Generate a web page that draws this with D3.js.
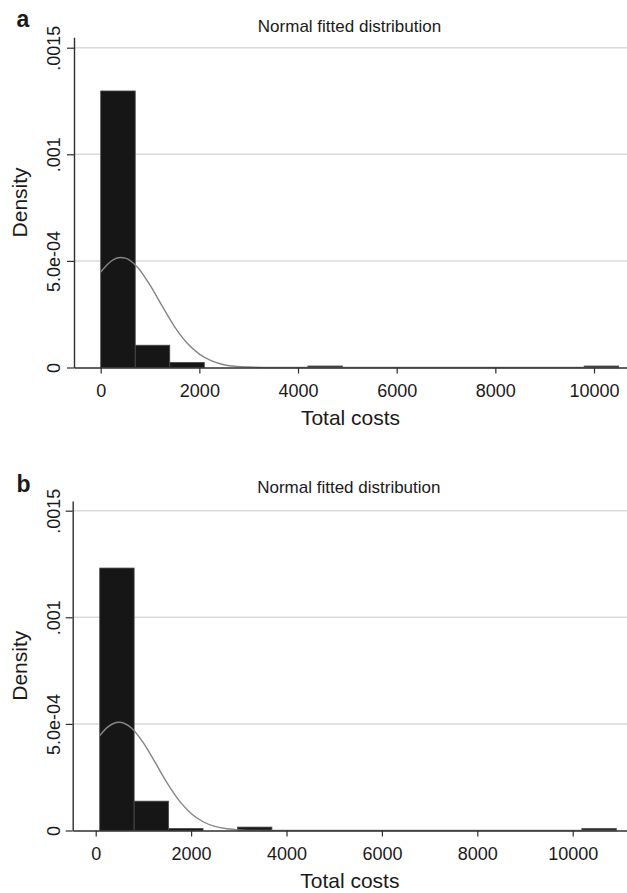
<!DOCTYPE html>
<html>
<head>
<meta charset="utf-8">
<script src="https://cdn.jsdelivr.net/npm/d3@7"></script>
<style>
  html, body { margin: 0; padding: 0; background: #fff; }
  svg { display: block; }
  text { font-family: "Liberation Sans", Arial, Helvetica, sans-serif; fill: #1a1a1a; }
</style>
</head>
<body>
<svg id="chart" width="627" height="893"></svg>
<script>
// ---------- DATA ----------
const xTickValues = [0, 2000, 4000, 6000, 8000, 10000];
const xTickLabels = ["0", "2000", "4000", "6000", "8000", "10000"];
const yTickValues = [0, 0.0005, 0.001, 0.0015];
const yTickLabels = ["0", "5.0e-04", ".001", ".0015"];
const gridValues = [0.0005, 0.001, 0.0015];

// Panel a histogram bins (non-empty bins)
const binLoA = [0, 700, 1400, 4200, 9800];
const binHiA = [700, 1400, 2100, 4900, 10500];
const densA  = [0.001297, 0.0001045, 0.000024, 0.000007, 0.000007];
// Panel a fitted normal curve
const curveXA = [0, 250, 400, 500, 750, 1000, 1250, 1500, 1750, 2000, 2250, 2500, 2750, 3000, 3500, 4000, 6000, 10500];
const curveYA = [0.000448, 0.000505, 0.000516, 0.000513, 0.000469, 0.000386, 0.000287, 0.000191, 0.000115, 0.000063, 0.000031, 0.000013, 0.000005, 0.000002, 0, 0, 0, 0];

// Panel b histogram bins (non-empty bins)
const binLoB = [84, 806, 1528, 2972, 10192];
const binHiB = [806, 1528, 2250, 3694, 10914];
const densB  = [0.001231, 0.0001376, 0.0000094, 0.000016, 0.000009];
// Panel b fitted normal curve
const curveXB = [84, 250, 489, 750, 1000, 1250, 1500, 1750, 2000, 2250, 2500, 2750, 3000, 3500, 4000, 6000, 10914];
const curveYB = [0.000445, 0.000485, 0.000508, 0.000481, 0.000411, 0.000318, 0.000222, 0.000140, 0.000080, 0.000041, 0.000019, 0.000008, 0.000003, 0, 0, 0, 0];

const panelLabels = ["a", "b"];
const titleText = "Normal fitted distribution";
const xTitle = "Total costs";
const yTitle = "Density";

// ---------- LAYOUT ----------
const layouts = [
  { yAxisX: 74, right: 627, top: 37.3, y0: 367.5, y15: 47.7, x0: 100.7, x10k: 594,
    letterY: 27.3, titleY: 32.3, binLo: binLoA, binHi: binHiA, dens: densA, cx: curveXA, cy: curveYA },
  { yAxisX: 72.7, right: 627, top: 501, y0: 830.5, y15: 510.7, x0: 95.7, x10k: 572.7,
    letterY: 491.7, titleY: 493.3, binLo: binLoB, binHi: binHiB, dens: densB, cx: curveXB, cy: curveYB }
];

const svg = d3.select("#chart");

layouts.forEach((L, i) => {
  const g = svg.append("g");

  const x = d3.scaleLinear().domain([0, 10000]).range([L.x0, L.x10k]);
  const y = d3.scaleLinear().domain([0, 0.0015]).range([L.y0, L.y15]);

  // gridlines
  g.selectAll(".grid").data(gridValues).enter().append("line")
    .attr("x1", L.yAxisX).attr("x2", L.right)
    .attr("y1", d => y(d)).attr("y2", d => y(d))
    .attr("stroke", "#dadada").attr("stroke-width", 1.5);

  // bars
  const bins = L.dens.map((d, k) => ({ lo: L.binLo[k], hi: L.binHi[k], d }));
  g.selectAll(".bar").data(bins).enter().append("rect")
    .attr("x", d => x(d.lo))
    .attr("width", d => x(d.hi) - x(d.lo))
    .attr("y", d => y(d.d))
    .attr("height", d => y(0) - y(d.d))
    .attr("fill", "#161616")
    .attr("stroke", "#4a4a4a").attr("stroke-width", 0.8);

  // curve
  const pts = L.cx.map((v, k) => [v, L.cy[k]]);
  const line = d3.line().x(d => x(d[0])).y(d => y(d[1])).curve(d3.curveMonotoneX);
  g.append("path").datum(pts)
    .attr("d", line)
    .attr("fill", "none")
    .attr("stroke", "#858585").attr("stroke-width", 1.4);

  // x axis
  const xAxisScale = d3.scaleLinear()
    .domain([x.invert(L.yAxisX), x.invert(L.right)])
    .range([L.yAxisX, L.right]);
  const xAxis = d3.axisBottom(xAxisScale)
    .tickValues(xTickValues)
    .tickFormat((d, k) => xTickLabels[k])
    .tickSizeInner(6).tickSizeOuter(0).tickPadding(12);
  const gx = g.append("g").attr("transform", `translate(0,${L.y0})`).call(xAxis);
  gx.select(".domain").attr("stroke", "#2e2e2e").attr("stroke-width", 1.4);
  gx.selectAll(".tick line").attr("stroke", "#2e2e2e").attr("stroke-width", 1.2);
  gx.selectAll(".tick text")
    .attr("font-size", "18px").attr("fill", "#1a1a1a")
    .attr("dy", null).attr("y", 29.2);

  // y axis
  const yAxisScale = d3.scaleLinear()
    .domain([0, y.invert(L.top)])
    .range([L.y0, L.top]);
  const yAxis = d3.axisLeft(yAxisScale)
    .tickValues(yTickValues)
    .tickFormat((d, k) => yTickLabels[k])
    .tickSizeInner(7).tickSizeOuter(0);
  const gy = g.append("g").attr("transform", `translate(${L.yAxisX},0)`).call(yAxis);
  gy.select(".domain").attr("stroke", "#2e2e2e").attr("stroke-width", 1.4);
  gy.selectAll(".tick line").attr("stroke", "#2e2e2e").attr("stroke-width", 1.2);
  gy.selectAll(".tick text")
    .attr("font-size", "18px").attr("fill", "#1a1a1a")
    .attr("x", null).attr("dy", null)
    .attr("text-anchor", "middle")
    .attr("transform", `translate(${60 - L.yAxisX},0) rotate(-90)`);

  // axis titles
  g.append("text")
    .attr("x", (L.yAxisX + L.right) / 2).attr("y", L.y0 + 57.7)
    .attr("text-anchor", "middle").attr("font-size", "21px")
    .text(xTitle);
  g.append("text")
    .attr("transform", `translate(26.7,${(L.top + L.y0) / 2}) rotate(-90)`)
    .attr("text-anchor", "middle").attr("font-size", "21px")
    .text(yTitle);

  // title
  g.append("text")
    .attr("x", (L.yAxisX + L.right) / 2 - 1).attr("y", L.titleY)
    .attr("text-anchor", "middle").attr("font-size", "17px")
    .text(titleText);

  // panel letter
  g.append("text")
    .attr("x", 16.5).attr("y", L.letterY)
    .attr("font-size", "23px").attr("font-weight", "bold")
    .text(panelLabels[i]);
});
</script>
</body>
</html>
